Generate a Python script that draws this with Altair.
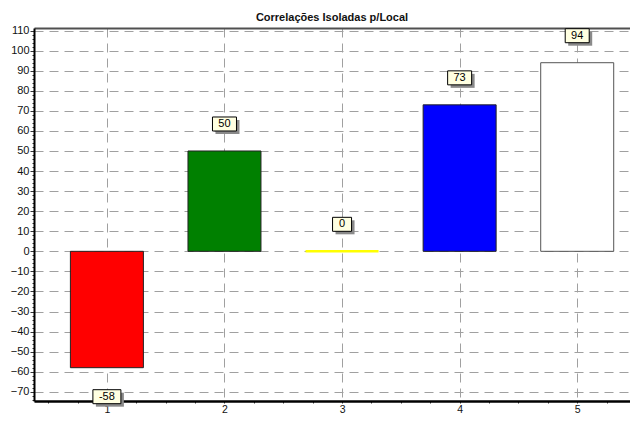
import altair as alt
import pandas as pd

# ---- data ----
categories = [1, 2, 3, 4, 5]
values = [-58, 50, 0, 73, 94]
labels = ["-58", "50", "0", "73", "94"]
fills = ["#ff0000", "#008000", "#ffff00", "#0000ff", "#ffffff"]
strokes = ["#222222", "#222222", "#ffff00", "#222222", "#555555"]

x_tick_values = [0.5 + 0.25 * i for i in range(20)]
y_tick_values = list(range(-74, 112, 2))

df = pd.DataFrame({"cat": categories, "v": values, "label": labels,
                   "fill": fills, "stroke": strokes})

FONT = "Liberation Sans"
xscale = alt.Scale(domain=[0.38, 5.449], nice=False, zero=False, padding=0)
yscale = alt.Scale(domain=[-74.6, 111.3], nice=False, zero=False, padding=0)

x_axis = alt.Axis(
    values=x_tick_values,
    labelExpr="datum.value % 1 === 0 ? format(datum.value, 'd') : ''",
    tickSize=2,
    gridOpacity={"condition": {"test": "datum.value % 1 === 0", "value": 1}, "value": 0},
    grid=True, gridDash=[9, 6], gridColor="#a0a0a0", gridWidth=1,
    domainColor="#000000", domainWidth=2.5, tickColor="#333333",
    labelFont=FONT, labelFontSize=10.5, labelColor="#111111", labelPadding=9,
    labelBaseline="alphabetic",
    labelOverlap=False, labelBound=False, title=None,
)
y_axis = alt.Axis(
    values=y_tick_values,
    labelExpr="datum.value % 10 === 0 ? format(datum.value, 'd') : ''",
    tickSize={"condition": {"test": "datum.value % 10 === 0", "value": 4}, "value": 2},
    gridOpacity={"condition": {"test": "datum.value % 10 === 0", "value": 1}, "value": 0},
    grid=True, gridDash=[9, 6], gridColor="#a0a0a0", gridWidth=1,
    domainColor="#000000", domainWidth=2, tickColor="#333333",
    labelFont=FONT, labelFontSize=11, labelColor="#111111", labelPadding=1,
    labelOverlap=False, labelBound=False, title=None,
)


def ycode():
    return alt.Y("v:Q", scale=yscale, axis=y_axis)


bars = alt.Chart(df).mark_bar(size=73, strokeWidth=1).encode(
    x=alt.X("cat:Q", scale=xscale, axis=x_axis),
    y=ycode(),
    y2=alt.datum(0),
    fill=alt.Fill("fill:N", scale=None),
    stroke=alt.Stroke("stroke:N", scale=None),
    strokeWidth=alt.condition("datum.v == 0", alt.value(2.5), alt.value(1)),
)

top_border = alt.Chart(df).mark_point(opacity=0).encode(
    x=alt.X("cat:Q", scale=xscale,
            axis=alt.Axis(orient="top", labels=False, ticks=False, grid=False,
                          domainColor="#505050", domainWidth=2, title=None)),
    y=ycode(),
)

layers = [bars, top_border]
for sign in (1, -1):
    for n, halfw in ((1, 9.5), (2, 12), (3, 14)):
        test = f"{'datum.v >= 0' if sign > 0 else 'datum.v < 0'} && length(datum.label) == {n}"
        base = alt.Chart(df).transform_filter(test)
        if sign > 0:
            y0, y1, dy = -34, -20, -27
        else:
            y0, y1, dy = 22, 36, 29
        enc = dict(
            x=alt.X("cat:Q", scale=xscale, axis=None),
            x2=alt.X2("cat"),
            y=ycode(),
            y2=alt.Y2("v"),
        )
        shadow = base.mark_rect(color="#8a8a8a", xOffset=-halfw + 3, x2Offset=halfw + 3,
                                yOffset=y0 + 3, y2Offset=y1 + 3).encode(**enc)
        box = base.mark_rect(fill="#ffffe1", stroke="#000000", strokeWidth=1,
                             xOffset=-halfw, x2Offset=halfw,
                             yOffset=y0, y2Offset=y1).encode(**enc)
        txt = base.mark_text(dy=dy, fontSize=11, font=FONT, color="#000000",
                             baseline="middle", align="center").encode(
            x=alt.X("cat:Q", scale=xscale, axis=None),
            y=ycode(),
            text="label:N",
        )
        layers += [shadow, box, txt]

chart = alt.layer(*layers).resolve_axis(x="independent").properties(
    width=596,
    height=373,
    title=alt.TitleParams("Correlações Isoladas p/Local", font=FONT, fontSize=11,
                          fontWeight="bold", color="#111111", anchor="middle",
                          frame="group", offset=2),
    autosize=alt.AutoSizeParams(type="none"),
    padding={"left": 26, "top": 20, "right": 0, "bottom": 12},
    background="#ffffff",
).configure_view(stroke=None)

chart.save("out.html", embed_options={"renderer": "svg", "actions": False})
